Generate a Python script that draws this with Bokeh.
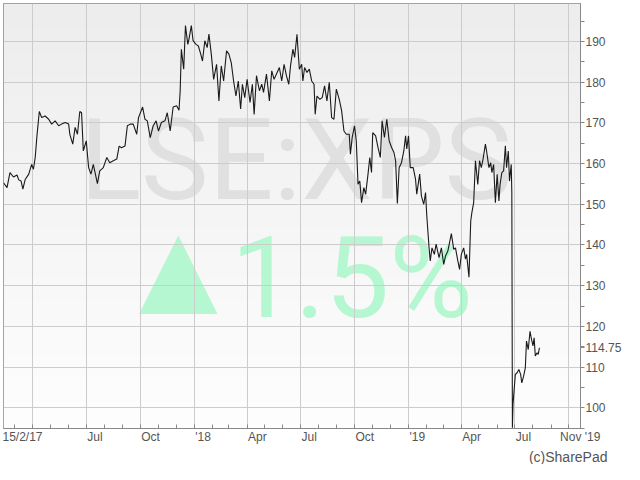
import numpy as np
import pandas as pd
from bokeh.plotting import figure
from bokeh.models import (Range1d, FixedTicker, DatetimeAxis, Title)
from bokeh.core.properties import value
from bokeh.embed import file_html
from bokeh.resources import INLINE

# ---------------- data ----------------
dates = [
    "2017-02-10", "2017-02-16", "2017-02-21", "2017-02-27", "2017-03-05", "2017-03-08",
    "2017-03-12", "2017-03-15", "2017-03-19", "2017-03-25", "2017-03-30", "2017-04-02",
    "2017-04-05", "2017-04-08", "2017-04-12", "2017-04-16", "2017-04-22", "2017-04-28",
    "2017-05-03", "2017-05-09", "2017-05-15", "2017-05-20", "2017-05-26", "2017-06-01",
    "2017-06-03", "2017-06-08", "2017-06-12", "2017-06-16", "2017-06-20", "2017-06-23",
    "2017-06-26", "2017-07-01", "2017-07-05", "2017-07-09", "2017-07-13", "2017-07-20",
    "2017-07-24", "2017-07-30", "2017-08-05", "2017-08-10", "2017-08-16", "2017-08-22",
    "2017-08-26", "2017-08-30", "2017-09-05", "2017-09-09", "2017-09-14", "2017-09-19",
    "2017-09-25", "2017-09-28", "2017-10-05", "2017-10-09", "2017-10-13", "2017-10-18",
    "2017-10-23", "2017-10-28", "2017-11-01", "2017-11-06", "2017-11-12", "2017-11-16",
    "2017-11-21", "2017-11-26", "2017-12-02", "2017-12-06", "2017-12-08", "2017-12-10",
    "2017-12-14", "2017-12-17", "2017-12-21", "2017-12-23", "2017-12-27", "2017-12-30",
    "2018-01-04", "2018-01-08", "2018-01-12", "2018-01-15", "2018-01-19", "2018-01-23",
    "2018-01-26", "2018-01-30", "2018-02-03", "2018-02-08", "2018-02-12", "2018-02-16",
    "2018-02-20", "2018-02-25", "2018-03-01", "2018-03-05", "2018-03-09", "2018-03-13",
    "2018-03-17", "2018-03-21", "2018-03-24", "2018-03-28", "2018-04-01", "2018-04-06",
    "2018-04-10", "2018-04-13", "2018-04-17", "2018-04-22", "2018-04-26", "2018-04-29",
    "2018-05-04", "2018-05-09", "2018-05-13", "2018-05-17", "2018-05-21", "2018-05-26",
    "2018-05-30", "2018-06-03", "2018-06-07", "2018-06-11", "2018-06-14", "2018-06-18",
    "2018-06-21", "2018-06-25", "2018-06-29", "2018-07-03", "2018-07-05", "2018-07-08",
    "2018-07-12", "2018-07-16", "2018-07-20", "2018-07-24", "2018-07-26", "2018-07-29",
    "2018-08-03", "2018-08-07", "2018-08-11", "2018-08-15", "2018-08-19", "2018-08-23",
    "2018-08-27", "2018-08-31", "2018-09-05", "2018-09-09", "2018-09-13", "2018-09-17",
    "2018-09-22", "2018-09-24", "2018-09-27", "2018-10-01", "2018-10-04", "2018-10-07",
    "2018-10-10", "2018-10-13", "2018-10-17", "2018-10-20", "2018-10-24", "2018-10-27",
    "2018-10-30", "2018-11-01", "2018-11-06", "2018-11-10", "2018-11-14", "2018-11-17",
    "2018-11-21", "2018-11-25", "2018-11-29", "2018-12-03", "2018-12-07", "2018-12-10",
    "2018-12-13", "2018-12-16", "2018-12-20", "2018-12-24", "2018-12-27", "2018-12-29",
    "2019-01-01", "2019-01-04", "2019-01-09", "2019-01-13", "2019-01-15", "2019-01-20",
    "2019-01-23", "2019-01-27", "2019-01-30", "2019-02-01", "2019-02-05", "2019-02-07",
    "2019-02-10", "2019-02-14", "2019-02-17", "2019-02-22", "2019-02-26", "2019-03-02",
    "2019-03-05", "2019-03-09", "2019-03-15", "2019-03-19", "2019-03-22", "2019-03-26",
    "2019-03-29", "2019-04-01", "2019-04-05", "2019-04-08", "2019-04-10", "2019-04-14",
    "2019-04-17", "2019-04-19", "2019-04-22", "2019-04-25", "2019-04-29", "2019-05-02",
    "2019-05-05", "2019-05-08", "2019-05-12", "2019-05-14", "2019-05-18", "2019-05-21",
    "2019-05-23", "2019-05-26", "2019-05-29", "2019-06-01", "2019-06-04", "2019-06-06",
    "2019-06-09", "2019-06-12", "2019-06-15", "2019-06-17", "2019-06-20", "2019-06-22",
    "2019-06-25", "2019-06-26", "2019-06-27", "2019-06-28", "2019-07-02", "2019-07-05",
    "2019-07-08", "2019-07-11", "2019-07-13", "2019-07-16", "2019-07-19", "2019-07-21",
    "2019-07-24", "2019-07-27", "2019-07-29", "2019-08-01", "2019-08-03", "2019-08-05",
    "2019-08-08", "2019-08-10", "2019-08-12",
]
prices = [
    155.3, 154.1, 157.8, 156.7, 157.2, 156.0,
    155.7, 153.7, 156.1, 157.4, 159.8, 158.6,
    161.5, 166.8, 172.8, 171.3, 171.7, 170.9,
    169.7, 170.5, 169.3, 169.7, 170.1, 169.7,
    167.2, 164.8, 168.9, 167.2, 172.8, 172.5,
    163.1, 165.6, 159.0, 157.4, 159.8, 155.1,
    158.2, 159.0, 161.5, 160.2, 160.7, 161.1,
    164.3, 163.9, 164.3, 169.3, 169.7, 169.7,
    167.2, 171.3, 173.9, 170.9, 170.5, 166.4,
    169.3, 170.5, 168.0, 170.1, 170.5, 172.5,
    168.0, 173.9, 174.2, 173.1, 177.9, 188.1,
    183.2, 193.9, 189.3, 190.6, 193.9, 190.2,
    189.3, 188.9, 186.9, 185.2, 190.2, 188.5,
    191.8, 186.9, 180.7, 184.4, 175.4, 184.0,
    180.3, 187.7, 186.9, 184.8, 180.3, 176.6,
    180.3, 173.4, 179.5, 176.2, 180.7, 175.0,
    179.5, 172.1, 181.6, 177.9, 179.5, 177.5,
    182.0, 175.4, 182.8, 180.7, 182.0, 183.6,
    180.3, 184.4, 181.6, 179.5, 184.0, 188.1,
    186.1, 191.8, 183.2, 184.4, 180.3, 183.6,
    182.4, 183.2, 180.3, 179.5, 172.1, 176.6,
    175.8, 176.2, 179.1, 175.4, 180.0, 171.3,
    170.9, 178.3, 175.8, 173.0, 168.0, 167.2,
    167.2, 162.3, 166.4, 169.3, 165.6, 154.9,
    155.7, 150.4, 154.1, 152.5, 157.4, 161.5,
    157.8, 167.6, 166.8, 164.0, 161.5, 170.5,
    166.4, 170.9, 165.6, 164.0, 162.8, 160.7,
    150.2, 159.0, 160.2, 163.1, 166.8, 163.6,
    166.8, 159.0, 159.0, 156.1, 152.5, 157.4,
    152.0, 150.0, 152.9, 147.5, 139.3, 136.1,
    139.3, 137.7, 140.2, 136.9, 139.3, 135.2,
    137.3, 138.5, 142.8, 138.9, 139.3, 136.1,
    134.0, 137.7, 139.3, 136.5, 137.7, 132.1,
    145.9, 148.0, 150.4, 160.7, 154.9, 160.7,
    159.0, 161.1, 164.8, 163.1, 159.0, 160.2,
    157.8, 159.8, 150.4, 157.4, 150.8, 154.9,
    157.8, 158.2, 164.4, 159.0, 163.1, 155.7,
    159.8, 152.9, 95.1, 100.8, 108.2, 108.6,
    109.4, 108.2, 106.1, 107.7, 109.8, 116.4,
    114.3, 118.8, 117.2, 115.2, 117.2, 112.7,
    113.5, 113.1, 114.75,
]

x_start, x_end = "2017-02-10", "2019-10-21"
y_start, y_end = 94.9, 199.34

grid_dates = ["2017-04-01", "2017-07-01", "2017-10-01", "2018-01-01", "2018-04-01",
              "2018-07-01", "2018-10-01", "2019-01-01", "2019-04-01", "2019-07-01",
              "2019-10-01"]
label_dates = ["2017-02-10", "2017-07-01", "2017-10-01", "2018-01-01", "2018-04-01",
               "2018-07-01", "2018-10-01", "2019-01-01", "2019-04-01", "2019-07-01",
               "2019-11-01"]
label_texts = ["15/2/17", "Jul", "Oct", "'18", "Apr", "Jul", "Oct", "'19", "Apr", "Jul",
               "Nov '19"]
y_major = [100, 110, 120, 130, 140, 150, 160, 170, 180, 190]

last_price = 114.75
last_price_text = "114.75"
symbol = "LSE:XPS"
change_arrow = "\u25B2"
change_text = "1.5%"
credit = "(c)SharePad"

# ---------------- layout helpers ----------------
W, H = 624, 464
FRAME_L, FRAME_T, RIGHT_PANEL = 3, 3, 43
frame_w = W - FRAME_L - RIGHT_PANEL
DAY = 86400000.0


def ms(s):
    return pd.Timestamp(s).value / 1e6


X0, X1 = ms(x_start), ms(x_end)
px_per_day = frame_w / ((X1 - X0) / DAY)
px_per_unit = 4.0667


def px_to_x(px):
    return X0 + (px - FRAME_L) / px_per_day * DAY


def py_to_y(py):
    return y_end - (py - FRAME_T) / px_per_unit


# approximate advance widths (em) of Liberation Sans, to left-align tick labels
EM = {"/": 0.278, "'": 0.191, " ": 0.278, "J": 0.5, "u": 0.556, "l": 0.222,
      "O": 0.778, "c": 0.5, "t": 0.278, "A": 0.667, "p": 0.556, "r": 0.333,
      "N": 0.722, "o": 0.556, "v": 0.5}


def text_w(s, size=12):
    return sum(EM.get(ch, 0.556) for ch in s) * size


FONT = "Liberation Sans"
AXIS_GREY = "#888888"
TEXT_GREY = "#555555"

p = figure(width=W, height=H, x_axis_type="datetime", title=None,
           x_range=Range1d(X0, X1), y_range=Range1d(y_start, y_end),
           y_axis_location="right", output_backend="svg", toolbar_location=None,
           min_border_left=FRAME_L, min_border_top=FRAME_T,
           min_border_right=RIGHT_PANEL, min_border_bottom=0,
           border_fill_color="white", background_fill_color="#f5f5f5",
           outline_line_color=AXIS_GREY)

# vertical gradient background of the plot area
rows = 120
t = np.linspace(0.0, 1.0, rows)[:, None]
bottom_c = np.array([254, 254, 254])
top_c = np.array([237, 237, 237])
img = np.empty((rows, 1), dtype=np.uint32)
view = img.view(dtype=np.uint8).reshape((rows, 1, 4))
view[:, 0, :3] = (bottom_c * (1 - t) + top_c * t).astype(np.uint8)
view[:, 0, 3] = 255
p.image_rgba(image=[img], x=X0, y=y_start, dw=X1 - X0, dh=y_end - y_start, level="image")

# watermarks (drawn under the grid)
p.text(x=[px_to_x(296)], y=[py_to_y(159)], text=[symbol], text_font=value("Roboto"),
       text_font_size="114px", text_align="center", text_baseline="alphabetic",
       text_color="#e0e0e0", level="image")
p.text(x=[px_to_x(178)], y=[py_to_y(267)], text=[change_arrow], text_font=value(FONT),
       text_font_size="134px", text_align="center", text_baseline="alphabetic",
       text_color="#b5f7d1", level="image")
p.text(x=[px_to_x(231)], y=[py_to_y(277)], text=[change_text], text_font=value("Roboto"),
       text_font_size="114px", text_align="left", text_baseline="alphabetic",
       text_color="#b5f7d1", level="image")

# grids
p.xgrid.grid_line_color = "#cccccc"
p.ygrid.grid_line_color = "#cccccc"
p.xgrid.ticker = FixedTicker(ticks=[ms(d) for d in grid_dates])
p.ygrid.ticker = FixedTicker(ticks=y_major)

# default x axis not used (its grid keeps its own ticker)
p.xaxis[0].visible = False

# x axis: monthly tick marks inside, labels left-aligned at their dates
centers = []
for i, (d, s) in enumerate(zip(label_dates, label_texts)):
    lead = -1 if i == 0 else (-9 if i == len(label_dates) - 1 else 1)
    c = ms(d) + (lead + text_w(s) / 2) / px_per_day * DAY
    c = min(c, X1 - DAY / 2)
    centers.append(int(round(c)))
minor_ms = [ms(d) for d in pd.date_range("2017-03-01", x_end, freq="MS")]
lab_axis = DatetimeAxis(ticker=FixedTicker(ticks=centers, minor_ticks=minor_ms),
                        major_label_overrides=dict(zip(centers, label_texts)),
                        axis_line_color=AXIS_GREY, major_tick_line_color=None,
                        minor_tick_line_color=AXIS_GREY, major_tick_in=0, major_tick_out=0,
                        minor_tick_in=4, minor_tick_out=0, major_label_standoff=1,
                        major_label_text_font=FONT, major_label_text_font_size="12px",
                        major_label_text_color=TEXT_GREY)
p.add_layout(lab_axis, "below")

# credit line
p.add_layout(Title(text=credit, align="right", offset=-27, standoff=0,
                   text_font=FONT, text_font_size="14px", text_font_style="normal",
                   text_color=TEXT_GREY), "below")

# y axis (right), with the last price marked
yax = p.yaxis[0]
yax.ticker = FixedTicker(ticks=y_major + [last_price],
                         minor_ticks=[v + 5 for v in [90] + y_major])
overrides = {v: str(v) for v in y_major}
overrides[last_price] = last_price_text
yax.major_label_overrides = overrides
yax.axis_line_color = AXIS_GREY
yax.major_tick_line_color = AXIS_GREY
yax.minor_tick_line_color = AXIS_GREY
yax.major_tick_in = 0
yax.major_tick_out = 4
yax.minor_tick_in = 0
yax.minor_tick_out = 4
yax.major_label_standoff = 1
yax.major_label_text_font = FONT
yax.major_label_text_font_size = "12px"
yax.major_label_text_color = TEXT_GREY

# price line
p.line(x=pd.to_datetime(dates), y=prices, line_color="#1a1a1a", line_width=1.1)

open("out.html", "w").write(file_html(p, INLINE))
